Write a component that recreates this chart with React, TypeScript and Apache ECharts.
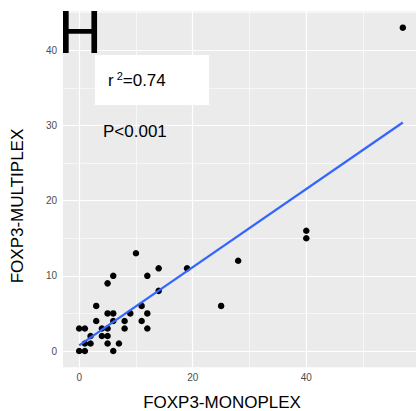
import React, { useEffect, useRef } from "react";
import * as echarts from "echarts";

// FOXP3 counts (x = MONOPLEX, y = MULTIPLEX)
const monoplex = [10, 6, 5, 14, 19, 12, 14, 3, 5, 6, 9, 11, 3, 6, 8, 11, 12, 0, 1, 4, 5, 8, 12, 2, 4, 5, 1, 2, 5, 7, 0, 1, 6, 25, 28, 40, 40, 57];
const multiplex = [13, 10, 9, 11, 11, 10, 8, 6, 5, 5, 5, 6, 4, 4, 4, 4, 5, 3, 3, 3, 3, 3, 3, 2, 2, 2, 1, 1, 1, 1, 0, 0, 0, 6, 12, 16, 15, 43];

const xMajor = [0, 20, 40];
const xMinor = [10, 30, 50];
const yMajor = [0, 10, 20, 30, 40];
const yMinor = [5, 15, 25, 35, 45];
const xRange = [-2.85, 59.85];
const yRange = [-2.15, 45.15];

const panelLabel = "H";
const r2Label = ["r", "2", "=0.74"];
const pLabel = "P<0.001";
const xTitle = "FOXP3-MONOPLEX";
const yTitle = "FOXP3-MULTIPLEX";

const titleFont = "'Liberation Sans', Arial, sans-serif";
const tickFont = "'Liberation Sans', Arial, sans-serif";

export default function App() {
  const ref = useRef<HTMLDivElement>(null);
  useEffect(() => {
    document.body.style.margin = "0";
    const chart = echarts.init(ref.current!, null, { renderer: "svg" });
    const n = monoplex.length;
    const mx = monoplex.reduce((a, b) => a + b, 0) / n;
    const my = multiplex.reduce((a, b) => a + b, 0) / n;
    let sxx = 0;
    let sxy = 0;
    monoplex.forEach((x, i) => {
      sxx += (x - mx) * (x - mx);
      sxy += (x - mx) * (multiplex[i] - my);
    });
    const slope = sxy / sxx;
    const intercept = my - slope * mx;
    const xMin = Math.min(...monoplex);
    const xMax = Math.max(...monoplex);
    const gl = (w: number) => ({ color: "#FFFFFF", width: w, type: "solid" as const });

    chart.setOption({
      animation: false,
      grid: {
        left: 63,
        right: 0,
        top: 11.5,
        bottom: 43.8,
        show: true,
        backgroundColor: "#EBEBEB",
        borderWidth: 0,
      },
      xAxis: {
        type: "value",
        min: xRange[0],
        max: xRange[1],
        axisLine: { show: false },
        splitLine: { show: false },
        axisTick: { show: true, length: 4, lineStyle: { color: "#333333", width: 1 }, customValues: xMajor },
        axisLabel: { customValues: xMajor, color: "#4D4D4D", fontSize: 10, margin: 5, fontFamily: tickFont },
      },
      yAxis: {
        type: "value",
        min: yRange[0],
        max: yRange[1],
        axisLine: { show: false },
        splitLine: { show: false },
        axisTick: { show: true, length: 4, lineStyle: { color: "#333333", width: 1 }, customValues: yMajor },
        axisLabel: { customValues: yMajor, color: "#4D4D4D", fontSize: 10, margin: 6, fontFamily: tickFont },
      },
      series: [
        {
          type: "scatter",
          data: [],
          z: 1,
          silent: true,
          markLine: {
            z: 1,
            silent: true,
            symbol: ["none", "none"],
            label: { show: false },
            emphasis: { disabled: true },
            data: [
              ...xMinor.map((v) => ({ xAxis: v, lineStyle: gl(0.6) })),
              ...yMinor.map((v) => ({ yAxis: v, lineStyle: gl(0.6) })),
              ...xMajor.map((v) => ({ xAxis: v, lineStyle: gl(1.2) })),
              ...yMajor.map((v) => ({ yAxis: v, lineStyle: gl(1.2) })),
            ],
          },
        },
        {
          type: "scatter",
          data: monoplex.map((x, i) => [x, multiplex[i]]),
          symbolSize: 6.5,
          itemStyle: { color: "#000000", opacity: 1 },
          z: 3,
        },
        {
          type: "line",
          data: [
            [xMin, intercept + slope * xMin],
            [xMax, intercept + slope * xMax],
          ],
          symbol: "none",
          lineStyle: { color: "#3366FF", width: 2.2 },
          z: 4,
        },
      ],
      graphic: [
        {
          type: "text",
          z: 100,
          x: 58,
          y: 32,
          style: { text: panelLabel, font: `61px ${tickFont}`, fill: "#000000", align: "left", verticalAlign: "middle" },
        },
        {
          type: "rect",
          z: 100,
          shape: { x: 95, y: 55, width: 114, height: 50 },
          style: { fill: "#FFFFFF" },
        },
        {
          type: "text",
          z: 101,
          x: 108,
          y: 80,
          style: {
            text: `{a|${r2Label[0]}}{s|${r2Label[1]}}{a|${r2Label[2]}}`,
            align: "left",
            verticalAlign: "middle",
            rich: {
              a: { fontSize: 17, fontFamily: titleFont, fill: "#000000", lineHeight: 20 },
              s: { fontSize: 11, fontFamily: titleFont, fill: "#000000", verticalAlign: "top", lineHeight: 20, padding: [0, 0, 0, 3] },
            },
          },
        },
        {
          type: "text",
          z: 101,
          x: 103,
          y: 131,
          style: { text: pLabel, font: `17px ${titleFont}`, fill: "#000000", align: "left", verticalAlign: "middle" },
        },
        {
          type: "text",
          z: 100,
          x: 222,
          y: 402,
          style: { text: xTitle, font: `17px ${titleFont}`, fill: "#000000", align: "center", verticalAlign: "middle" },
        },
        {
          type: "text",
          z: 100,
          x: 17,
          y: 206,
          rotation: Math.PI / 2,
          style: { text: yTitle, font: `17px ${titleFont}`, fill: "#000000", align: "center", verticalAlign: "middle" },
        },
      ],
    });
    return () => chart.dispose();
  }, []);
  return (
    <div style={{ position: "absolute", left: 0, top: 0, width: 416, height: 411, overflow: "hidden", background: "#FFFFFF" }}>
      <div ref={ref} style={{ width: 419, height: 411 }} />
    </div>
  );
}
